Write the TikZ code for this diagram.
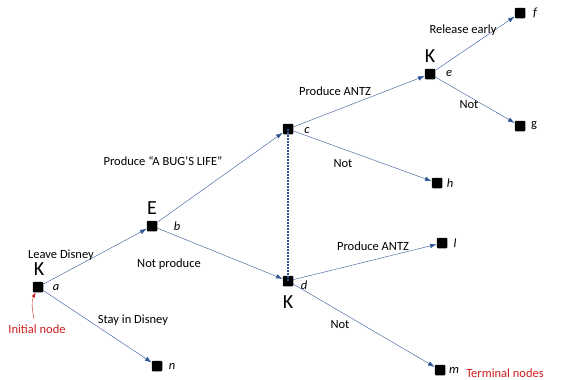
\documentclass[tikz,border=0pt]{standalone}
\usepackage{fontspec}
\setmainfont{Carlito}
\usetikzlibrary{arrows.meta}
\definecolor{zweig}{RGB}{47,84,150}
\definecolor{hinweis}{RGB}{204,30,30}
\tikzset{
	knoten/.style={rectangle, fill=black, rounded corners=1pt, minimum size=10.5pt, inner sep=0pt},
	zug/.style={draw=zweig, thin, -{Latex[length=6.5pt,width=4.5pt]}},
	spieler/.style={font=\fontsize{20}{20}\selectfont},
	knotenname/.style={font=\itshape\fontsize{12.5}{12.5}\selectfont},
	aktion/.style={font=\fontsize{12.5}{12.5}\selectfont}
}
\begin{document}
\begin{tikzpicture}
	[
	x=1pt, y=-1pt
	%Pixelkoordinaten, y nach unten
	]
	
	%Rahmen
	\useasboundingbox (0,0) rectangle (566,380);
	
	%Knoten
	\node[knoten] (a) at (38,287) {};
	\node[knoten] (b) at (152,226) {};
	\node[knoten] (c) at (288,129) {};
	\node[knoten] (d) at (288,281) {};
	\node[knoten] (e) at (430,74) {};
	\node[knoten] (f) at (520,13) {};
	\node[knoten] (g) at (520,126) {};
	\node[knoten] (h) at (437,183) {};
	\node[knoten] (l) at (442,243) {};
	\node[knoten] (m) at (440,370) {};
	\node[knoten] (n) at (157,366) {};
	
	%Spieler
	\node[spieler] (Ka) at (39,269) {K};
	\node[spieler] (Eb) at (152,208) {E};
	\node[spieler] (Ke) at (430,56) {K};
	\node[spieler] (Kd) at (288,302) {K};
	
	%Knotennamen
	\node[knotenname] (na) at (56,288) {a};
	\node[knotenname] (nb) at (177,226) {b};
	\node[knotenname] (nc) at (307,131) {c};
	\node[knotenname] (nd) at (304,285) {d};
	\node[knotenname] (ne) at (449,74) {e};
	\node[knotenname] (nf) at (535,13) {f};
	\node[aktion] (ng) at (534,126) {g};
	\node[knotenname] (nh) at (450,183) {h};
	\node[knotenname] (nl) at (455,243) {l};
	\node[knotenname] (nm) at (454,370) {m};
	\node[knotenname] (nn) at (172,366) {n};
	
	%Zuege
	\draw[zug] (a) -- (b);
	\draw[zug] (a) -- (n);
	\draw[zug] (b) -- (c);
	\draw[zug] (b) -- (d);
	\draw[zug] (c) -- (e);
	\draw[zug] (c) -- (h);
	\draw[zug] (d) -- (l);
	\draw[zug] (d) -- (m);
	\draw[zug] (e) -- (f);
	\draw[zug] (e) -- (g);
	
	%Informationsmenge
	\draw[zweig, line width=1.2pt, dash pattern=on 2pt off 1pt] (c.center) -- (d.center);
	
	%Aktionen
	\node[aktion] (t1) at (61,255) {Leave Disney};
	\node[aktion] (t2) at (133,320) {Stay in Disney};
	\node[aktion] (t3) at (163,161) {Produce “A BUG’S LIFE”};
	\node[aktion] (t4) at (169,264) {Not produce};
	\node[aktion] (t5) at (335,91) {Produce ANTZ};
	\node[aktion] (t6) at (343,164) {Not};
	\node[aktion] (t7) at (373,246) {Produce ANTZ};
	\node[aktion] (t8) at (340,325) {Not};
	\node[aktion] (t9) at (463,30) {Release early};
	\node[aktion] (t10) at (469,105) {Not};
	
	%Hinweise
	\node[aktion, text=hinweis] (init) at (37,329) {Initial node};
	\node[aktion, text=hinweis] (term) at (505,373) {Terminal nodes};
	\draw[hinweis, thin, -{Latex[length=5pt,width=3.5pt]}] (34,319) to[out=100,in=-115] (a);
\end{tikzpicture}
\end{document}
